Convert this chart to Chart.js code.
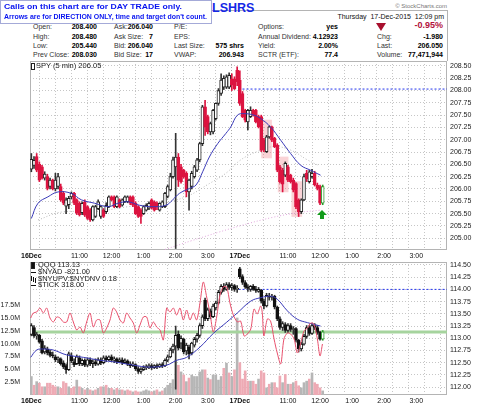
<!DOCTYPE html>
<html>
<head>
<meta charset="utf-8">
<title>SPY 5 min</title>
<script src="https://cdn.jsdelivr.net/npm/chart.js@4.4.1/dist/chart.umd.min.js"></script>
<style>
  html, body { margin: 0; padding: 0; background: #fff; }
  body { position: relative; width: 480px; height: 406px; overflow: hidden;
         font-family: "Liberation Sans", Arial, sans-serif; color: #222; }
  .l, .v { position: absolute; font-size: 7px; line-height: 9px; white-space: nowrap; }
  .l { color: #333; }
  .v { color: #000; font-weight: bold; text-align: right; }
  #frame { position: absolute; left: 30px; top: 10px; width: 417px; height: 50px;
           border-top: 1px solid #b4b4b4; border-right: 1px solid #b4b4b4; }
  #callout { position: absolute; left: 0; top: 0; width: 207px; height: 21px; padding: 1px 0 0 3px;
             border: 1px solid #a4aad8; background: #fff; z-index: 5; }
  #callout span { display: block; width: max-content; transform-origin: 0 0;
                  color: #0814f0; font-weight: bold; font-size: 8px; line-height: 10px; }
  #title { position: absolute; left: 212px; top: 1px; font-size: 12.5px; font-weight: bold; color: #1428e6; }
  #pane1 { position: absolute; left: 0; top: 56px; width: 480px; height: 206px; }
  #pane2 { position: absolute; left: 0; top: 258px; width: 480px; height: 148px; }
  .leg { position: absolute; font-size: 7.5px; line-height: 8px; color: #222; white-space: nowrap; z-index: 4; }
  .ic { position: absolute; left: 31px; }
</style>
</head>
<body>
<div id="frame"></div>
<div id="title">LSHRS</div>
<div id="callout">
  <span data-w="178">Calls on this chart are for DAY TRADE only.</span>
  <span data-w="203">Arrows are for DIRECTION ONLY, time and target don't count.</span>
</div>
<div class="l" style="right:33px;top:2px;font-size:6px;color:#777">© StockCharts.com</div>
<div class="l" style="right:36px;top:12px;color:#111">Thursday&nbsp; 17-Dec-2015&nbsp; 12:09 pm</div>

<div class="l" style="left:33px;top:22px">Open:</div>
<div class="l" style="left:33px;top:32px">High:</div>
<div class="l" style="left:33px;top:41px">Low:</div>
<div class="l" style="left:33px;top:50px">Prev Close:</div>
<div class="v" style="right:383px;top:22px">208.400</div>
<div class="v" style="right:383px;top:32px">208.480</div>
<div class="v" style="right:383px;top:41px">205.440</div>
<div class="v" style="right:383px;top:50px">208.030</div>

<div class="l" style="left:114px;top:22px">Ask:</div>
<div class="l" style="left:114px;top:32px">Ask Size:</div>
<div class="l" style="left:114px;top:41px">Bid:</div>
<div class="l" style="left:114px;top:50px">Bid Size:</div>
<div class="v" style="right:327px;top:22px">206.040</div>
<div class="v" style="right:327px;top:32px">7</div>
<div class="v" style="right:327px;top:41px">206.040</div>
<div class="v" style="right:327px;top:50px">17</div>

<div class="l" style="left:174px;top:22px">P/E:</div>
<div class="l" style="left:174px;top:32px">EPS:</div>
<div class="l" style="left:174px;top:41px">Last Size:</div>
<div class="l" style="left:174px;top:50px">VWAP:</div>
<div class="v" style="right:236px;top:41px">575 shrs</div>
<div class="v" style="right:236px;top:50px">206.943</div>

<div class="l" style="left:258px;top:22px">Options:</div>
<div class="l" style="left:258px;top:32px">Annual Dividend:</div>
<div class="l" style="left:258px;top:41px">Yield:</div>
<div class="l" style="left:258px;top:50px">SCTR (ETF):</div>
<div class="v" style="right:142px;top:22px">yes</div>
<div class="v" style="right:142px;top:32px">4.12923</div>
<div class="v" style="right:142px;top:41px">2.00%</div>
<div class="v" style="right:142px;top:50px">77.4</div>

<div style="position:absolute;left:376px;top:23px;width:0;height:0;border-left:5px solid transparent;border-right:5px solid transparent;border-top:8px solid #a8102e"></div>
<div class="v" style="right:37px;top:20px;font-size:9px;line-height:11px;color:#b3123c">-0.95%</div>
<div class="l" style="left:377px;top:32px">Chg:</div>
<div class="l" style="left:377px;top:41px">Last:</div>
<div class="l" style="left:377px;top:50px">Volume:</div>
<div class="v" style="right:37px;top:32px">-1.980</div>
<div class="v" style="right:37px;top:41px">206.050</div>
<div class="v" style="right:37px;top:50px">77,471,944</div>

<div id="pane1"><canvas id="spyChart"></canvas></div>
<div id="pane2"><canvas id="qqqChart"></canvas></div>

<div class="ic" style="top:63px;width:2px;height:5px;border:1px solid #222;background:#fff"></div>
<div class="leg" style="left:36px;top:62px">SPY (5 min) 206.05</div>
<div class="ic" style="top:262px;width:2px;height:5px;border:1px solid #222;background:#111"></div>
<div class="leg" style="left:38px;top:261px">QQQ 113.13</div>
<div class="ic" style="top:272px;width:5px;height:1px;background:#111"></div>
<div class="leg" style="left:38px;top:268px">$NYAD -821.00</div>
<div class="ic" style="top:276px;width:1px;height:5px;background:#111;box-shadow:2px 1px 0 #111,4px 2px 0 #111"></div>
<div class="leg" style="left:38px;top:275px">$NYUPV:$NYDNV 0.18</div>
<div class="ic" style="top:285px;width:5px;height:1px;background:#111"></div>
<div class="leg" style="left:38px;top:281px">$TICK 318.00</div>

<script>
// ---- x axis (5-minute bars, two sessions of 78 bars) ----
const tickBar  = [0, 18, 30, 42, 54, 66, 78, 96, 108, 120, 132, 144];
const tickText = ['16Dec', '11:00', '12:00', '1:00', '2:00', '3:00', '17Dec', '11:00', '12:00', '1:00', '2:00', '3:00'];

// ---- SPY 5 min candles ----
const spyOpen = [
  206.40,206.48,206.66,206.50,206.45,206.22,206.25,206.05,206.18,206.00,
  206.05,206.05,205.91,205.65,205.68,205.84,205.91,205.78,205.71,205.52,
  205.74,205.64,205.57,205.37,205.44,205.60,205.44,205.57,205.54,205.64,
  205.84,205.84,205.64,205.78,205.67,205.74,205.74,205.84,205.84,205.71,
  205.64,205.57,205.50,205.57,205.61,205.78,205.74,205.71,205.57,205.64,
  205.64,205.85,205.98,206.25,206.45,206.65,206.45,206.38,206.32,205.94,
  206.05,206.25,206.38,206.59,206.92,207.67,207.47,207.16,207.16,207.43,
  207.74,207.94,208.07,208.07,208.07,208.24,208.24,208.41,208.21,207.94,
  207.60,207.36,207.47,207.60,207.60,207.47,207.47,206.99,206.76,207.06,
  207.26,207.03,206.89,206.45,206.38,206.28,206.45,206.28,206.18,206.11,
  205.78,205.54,205.78,206.32,206.15,206.25,206.32,206.08,206.05,205.71
];
const spyHigh = [
  206.72,206.66,206.72,206.55,206.48,206.35,206.30,206.22,206.20,206.32,
  206.32,206.10,205.95,205.82,205.85,205.94,205.93,205.80,205.74,205.74,
  205.78,205.66,205.60,205.66,205.67,205.78,205.66,205.60,205.72,205.86,
  205.86,205.86,205.86,205.80,205.80,205.86,205.86,205.86,205.86,205.74,
  205.66,205.60,205.66,205.70,205.74,205.80,205.76,205.74,205.72,205.76,
  205.93,206.08,206.32,206.65,207.13,206.72,206.50,206.40,206.35,206.20,
  206.36,206.48,206.62,206.95,207.70,207.80,207.50,207.36,207.62,207.75,
  208.04,208.34,208.30,208.32,208.36,208.34,208.28,208.48,208.40,207.98,
  207.62,207.62,207.67,207.62,207.62,207.50,207.50,207.03,207.09,207.28,
  207.28,207.05,206.92,206.48,206.42,206.55,206.48,206.30,206.22,206.13,
  205.80,205.80,206.30,206.38,206.38,206.40,206.36,206.12,206.08,206.08
];
const spyLow = [
  206.35,206.42,206.35,206.15,206.20,206.18,205.98,206.00,205.98,205.96,
  206.00,205.75,205.68,205.50,205.60,205.80,205.68,205.48,205.45,205.48,
  205.44,205.38,205.34,205.35,205.42,205.58,205.40,205.42,205.50,205.62,
  205.76,205.62,205.62,205.62,205.65,205.72,205.72,205.68,205.64,205.48,
  205.42,205.30,205.48,205.55,205.58,205.59,205.55,205.58,205.55,205.62,
  205.62,205.82,205.96,206.22,204.79,206.05,206.12,206.22,205.84,205.57,
  206.00,206.22,206.35,206.55,206.88,207.09,207.12,207.10,207.12,207.40,
  207.70,207.90,208.02,208.04,208.04,208.00,208.02,208.10,207.70,207.45,
  207.36,207.20,207.45,207.48,207.34,207.24,206.76,206.76,206.74,207.03,
  206.96,206.84,206.35,206.12,205.94,206.25,206.15,206.12,205.94,205.60,
  205.44,205.50,205.76,206.15,206.12,206.22,206.06,205.98,205.68,205.68
];
const spyClose = [
  206.60,206.58,206.38,206.18,206.22,206.30,206.01,206.18,206.00,206.18,
  206.25,205.78,205.71,205.78,205.81,205.91,205.71,205.51,205.48,205.71,
  205.47,205.40,205.37,205.64,205.64,205.74,205.64,205.44,205.67,205.84,
  205.78,205.64,205.84,205.64,205.78,205.84,205.84,205.71,205.67,205.50,
  205.44,205.44,205.64,205.67,205.71,205.61,205.57,205.64,205.71,205.74,
  205.91,206.05,206.25,206.59,206.65,206.18,206.15,206.25,205.94,206.18,
  206.32,206.45,206.59,206.92,207.67,207.26,207.16,207.33,207.60,207.74,
  208.00,208.21,208.25,208.28,208.31,208.11,208.04,208.18,207.74,207.47,
  207.40,207.60,207.60,207.50,207.36,207.26,206.79,206.79,207.06,207.26,
  206.99,206.86,206.38,206.15,206.10,206.52,206.18,206.15,205.98,205.64,
  205.54,205.78,206.25,206.21,206.35,206.32,206.08,206.01,205.71,206.05
];
const spyPrevClose = 208.03;
const spyTicks = [205.00, 205.25, 205.50, 205.75, 206.00, 206.25, 206.50, 206.75, 207.00, 207.25, 207.50, 207.75, 208.00, 208.25, 208.50];

// overlays on the SPY panel
const spyMaX   = [0, 2.5, 6.2, 10, 15, 18.7, 23.7, 28.7, 32.4, 36.2, 40.4, 45.4, 50.4, 52.9, 55.4, 59.1, 61.6, 64.1, 66.6, 69.7, 72.8, 74.6, 77.1, 79.6, 83.3, 85.8, 89.5, 93.3, 97, 100.8, 104.5, 108.2];
const spyMaVal = [205.40, 205.71, 205.84, 205.94, 205.91, 205.78, 205.71, 205.64, 205.71, 205.74, 205.67, 205.64, 205.67, 205.78, 205.91, 206.01, 206.08, 206.35, 206.65, 206.92, 207.13, 207.26, 207.50, 207.53, 207.50, 207.43, 207.26, 206.99, 206.72, 206.48, 206.38, 206.28];
const spySlowX   = [2.5, 11.2, 23.7, 36.2, 47.9, 57.8, 66.6, 72.8, 78.3, 84.5, 90.8, 97, 103.3, 107];
const spySlowVal = [205.37, 205.53, 205.54, 205.64, 205.71, 205.84, 206.11, 206.32, 206.59, 206.76, 206.86, 206.79, 206.59, 206.49];
const spyLongX   = [50, 60, 70, 78, 90, 100, 108.2];
const spyLongVal = [204.77, 204.95, 205.12, 205.25, 205.42, 205.52, 205.57];
const zoneBar  = [88, 94.2, 99.3];
const zoneLow  = [206.63, 205.94, 205.44];
const zoneHigh = [207.40, 206.65, 206.15];
const arrowBar   = [108.6];
const arrowPrice = [205.57];

// ---- QQQ 5 min candles ----
const qqqOpen = [
  113.08,113.22,113.05,113.06,112.95,112.72,112.78,112.72,112.66,112.62,
  112.56,112.58,112.50,112.44,112.36,112.64,112.52,112.48,112.60,112.48,
  112.55,112.45,112.56,112.48,112.52,112.47,112.56,112.50,112.60,112.56,
  112.62,112.55,112.58,112.52,112.56,112.50,112.54,112.47,112.44,112.46,
  112.38,112.32,112.36,112.40,112.42,112.44,112.40,112.44,112.42,112.46,
  112.44,112.55,112.62,112.76,112.84,113.08,112.90,112.98,112.74,112.82,
  112.70,112.86,112.98,113.06,113.26,113.78,113.40,113.56,113.44,113.62,
  113.72,113.94,114.06,114.00,114.10,114.04,114.08,114.00,114.42,114.26,
  114.14,114.05,114.00,114.06,114.00,113.96,113.98,113.76,113.66,113.86,
  113.84,113.86,113.64,113.40,113.22,113.28,113.16,113.26,113.18,113.20,
  112.96,112.78,112.88,113.04,113.22,113.10,113.26,113.22,113.12,112.98
];
const qqqHigh = [
  113.30,113.26,113.12,113.08,112.98,112.85,112.82,112.76,112.72,112.66,
  112.62,112.60,112.54,112.48,112.72,112.70,112.58,112.66,112.64,112.58,
  112.58,112.60,112.60,112.56,112.58,112.60,112.60,112.64,112.64,112.64,
  112.66,112.62,112.60,112.60,112.60,112.58,112.56,112.52,112.52,112.48,
  112.42,112.40,112.44,112.46,112.48,112.48,112.46,112.48,112.48,112.50,
  112.58,112.66,112.80,112.88,113.25,113.15,113.05,113.00,112.90,112.86,
  112.92,113.02,113.10,113.30,113.48,113.82,113.62,113.60,113.70,113.76,
  113.98,114.10,114.12,114.14,114.14,114.12,114.10,114.08,114.45,114.30,
  114.18,114.10,114.08,114.10,114.06,114.04,114.00,113.80,113.92,113.92,
  113.90,113.88,113.66,113.44,113.34,113.32,113.30,113.30,113.24,113.22,
  112.98,112.92,113.08,113.26,113.26,113.30,113.30,113.26,113.14,113.16
];
const qqqLow = [
  113.05,113.02,112.98,112.90,112.68,112.68,112.66,112.62,112.60,112.52,
  112.50,112.45,112.38,112.28,112.34,112.50,112.42,112.46,112.44,112.44,
  112.42,112.42,112.44,112.40,112.44,112.45,112.46,112.48,112.52,112.54,
  112.52,112.50,112.48,112.50,112.46,112.48,112.44,112.40,112.42,112.34,
  112.28,112.28,112.34,112.36,112.38,112.36,112.38,112.38,112.40,112.40,
  112.42,112.52,112.60,112.70,111.96,112.76,112.78,112.68,112.66,112.58,
  112.66,112.82,112.92,113.02,113.20,113.36,113.36,113.40,113.42,113.58,
  113.70,113.90,113.96,113.98,114.00,113.98,113.96,113.94,114.22,114.10,
  114.02,113.96,113.96,113.98,113.94,113.94,113.72,113.60,113.64,113.78,
  113.78,113.60,113.36,113.18,113.16,113.12,113.12,113.14,113.08,112.92,
  112.72,112.74,112.86,113.00,113.06,113.08,113.18,113.08,112.96,112.96
];
const qqqClose = [
  113.26,113.05,113.08,112.92,112.70,112.80,112.70,112.65,112.64,112.56,
  112.60,112.48,112.42,112.36,112.68,112.54,112.46,112.62,112.48,112.55,
  112.45,112.56,112.48,112.52,112.47,112.56,112.50,112.60,112.56,112.62,
  112.55,112.58,112.52,112.56,112.50,112.54,112.47,112.44,112.48,112.38,
  112.32,112.36,112.40,112.42,112.44,112.40,112.44,112.42,112.46,112.44,
  112.55,112.62,112.76,112.84,113.06,112.80,113.00,112.72,112.86,112.68,
  112.90,112.98,113.06,113.26,113.44,113.40,113.58,113.44,113.66,113.72,
  113.94,114.06,114.00,114.10,114.04,114.08,114.00,114.01,114.26,114.14,
  114.05,114.02,114.06,114.00,113.98,114.00,113.76,113.66,113.88,113.84,
  113.86,113.64,113.40,113.22,113.30,113.16,113.26,113.18,113.20,112.96,
  112.78,112.88,113.04,113.22,113.10,113.26,113.22,113.12,112.98,113.13
];
const qqqPrevClose = 114.00;
const qqqLast = 113.13;
const qqqTicks = [112.00, 112.25, 112.50, 112.75, 113.00, 113.25, 113.50, 113.75, 114.00, 114.25, 114.50];
const qqqMaX   = [-0.25, 2, 4.5, 8.2, 13.2, 19.5, 25.7, 31.9, 38.2, 44.4, 50.6, 54.4, 58.1, 63.1, 68.1, 73.1, 77.1, 82.1, 85.8, 89.5, 92, 95.8, 99.5, 103.3, 108.2];
const qqqMaVal = [112.61, 112.76, 112.78, 112.76, 112.66, 112.61, 112.55, 112.51, 112.45, 112.41, 112.45, 112.55, 112.61, 112.82, 113.10, 113.33, 113.52, 113.76, 113.83, 113.86, 113.80, 113.56, 113.39, 113.32, 113.25];

// ---- volume (millions) ----
const volume = [
  3.6,1.9,2.6,2.3,1.6,1.6,2.3,2.3,1.9,1.6,
  1.6,1.3,2.6,2.3,1.6,1.3,1.6,2.9,1.6,1.3,
  1.0,1.3,1.0,0.8,1.0,1.3,1.6,1.6,1.9,1.3,
  1.3,1.0,1.3,1.0,1.0,0.8,1.0,0.8,0.6,0.8,
  0.6,0.6,0.8,1.0,0.8,0.6,0.8,1.0,0.6,0.8,
  1.3,1.9,2.3,3.0,6.8,5.8,4.5,3.9,2.6,3.3,
  3.9,3.6,3.6,4.5,4.9,4.9,3.3,3.0,3.9,3.9,
  2.9,3.6,5.2,6.2,4.3,3.6,4.9,15.0,6.3,3.1,
  4.7,2.7,2.7,2.7,2.1,3.1,4.7,4.3,1.4,2.1,
  2.4,2.4,1.4,3.7,2.4,4.0,2.1,2.1,2.4,2.7,
  1.8,1.4,2.4,2.7,3.1,4.3,2.4,2.1,1.4,0.8
];
const volTicks = [2.5, 5.0, 7.5, 10.0, 12.5, 15.0, 17.5];

// ---- $TICK line ----
const breadthX = [
  -0.25,0.75,2.0,3.24,4.49,5.74,6.98,8.23,9.48,10.72,11.97,13.22,14.46,15.71,16.96,18.2,19.45,20.7,21.95,23.19,
  24.44,25.69,26.93,28.18,29.43,30.67,31.92,33.17,34.41,35.66,36.91,38.15,39.4,40.65,41.9,43.14,44.39,45.64,46.88,48.13,
  49.38,50.62,51.87,53.12,54.36,55.61,56.86,58.1,59.35,60.6,61.84,63.09,64.34,65.59,66.83,68.08,69.33,70.57,71.82,73.07,
  74.31,75.56,77.1,78.3,79.6,80.8,82.1,83.3,84.5,85.8,86.4,87.0,88.3,89.5,90.8,92.0,93.3,94.5,95.8,97.0,
  98.3,99.5,100.8,102.0,103.3,104.5,105.7,107.0,108.0,108.9
];
const breadthVal = [
  280,380,400,480,380,480,280,200,300,280,200,200,380,200,40,100,-20,200,380,100,
  240,240,-20,80,240,480,400,240,180,380,280,180,-20,140,300,300,80,200,100,40,
  -160,480,400,480,340,480,240,440,240,380,240,580,1000,700,380,0,300,740,900,900,
  580,340,200,220,-80,-40,60,460,360,520,380,-80,260,220,-140,-420,-640,-140,-20,-40,
  -140,-420,-220,20,80,180,160,-140,-480,-240
];

// ---------------------------------------------------------------
Chart.defaults.font.family = '"Liberation Sans", Arial, sans-serif';
Chart.defaults.font.size = 7;
Chart.defaults.color = '#222';
Chart.defaults.animation = false;
Chart.defaults.plugins.legend.display = false;
Chart.defaults.plugins.tooltip.enabled = false;

const X_MIN = -0.5, X_MAX = 155.5;
const dayTwo = tickBar[tickText.indexOf('17Dec')];
const gridBars = [];
for (let b = 0; b <= X_MAX; b += 6) gridBars.push(b);

const RED = '#dc1440', GREEN = '#2a9a2a', GRID = '#c6c6c6';

function xLabel(v) {
  const k = tickBar.indexOf(Math.round(v));
  return k < 0 ? '' : tickText[k];
}

function xScale(h) {
  return {
    type: 'linear', min: X_MIN, max: X_MAX, offset: false,
    afterBuildTicks: s => { s.ticks = gridBars.map(v => ({ value: v })); },
    afterFit: s => { s.height = h; s.paddingLeft = 0; s.paddingRight = 0; },
    grid: { drawTicks: false, color: ctx => (ctx.tick && ctx.tick.value === dayTwo) ? '#a8a8a8' : GRID },
    border: { display: false, dash: [1, 2] },
    ticks: {
      autoSkip: false, maxRotation: 0, minRotation: 0, padding: 2, color: '#111',
      font: ctx => ({ size: 7, weight: (ctx.tick && /Dec/.test(xLabel(ctx.tick.value))) ? 'bold' : 'normal' }),
      callback: v => xLabel(v)
    }
  };
}

function priceScale(lo, hi, ticks) {
  return {
    position: 'right', min: lo, max: hi,
    afterBuildTicks: s => { s.ticks = ticks.map(v => ({ value: v })); },
    afterFit: s => { s.width = 33; s.paddingTop = 0; s.paddingBottom = 0; },
    grid: { drawTicks: false, color: GRID },
    border: { display: false, dash: [1, 2] },
    ticks: { padding: 3, color: '#222', callback: v => v.toFixed(2) }
  };
}

const pts = (xs, ys) => xs.map((x, i) => ({ x, y: ys[i] }));
const bodies = (o, c) => o.map((v, i) => ({ x: i, y: [Math.min(v, c[i]), Math.max(v, c[i])] }));
const wicks = (l, h) => l.map((v, i) => ({ x: i, y: [v, h[i]] }));

const framePlugin = {
  id: 'frame',
  beforeDatasetsDraw(chart) {
    const a = chart.chartArea, ctx = chart.ctx;
    ctx.save();
    ctx.strokeStyle = '#b4b4b4';
    ctx.lineWidth = 1;
    ctx.strokeRect(Math.round(a.left) + 0.5, Math.round(a.top) + 0.5,
                   Math.round(a.right - a.left) - 1, Math.round(a.bottom - a.top) - 1);
    ctx.restore();
  }
};

const arrowPlugin = {
  id: 'arrows',
  afterDatasetsDraw(chart) {
    const ctx = chart.ctx, xs = chart.scales.x, ys = chart.scales.y;
    ctx.save();
    ctx.fillStyle = '#139c1c';
    arrowBar.forEach((b, i) => {
      const px = Math.round(xs.getPixelForValue(b)), py = Math.round(ys.getPixelForValue(arrowPrice[i]));
      ctx.beginPath();
      ctx.moveTo(px, py);
      ctx.lineTo(px + 5, py + 5);
      ctx.lineTo(px + 2, py + 5);
      ctx.lineTo(px + 2, py + 9);
      ctx.lineTo(px - 2, py + 9);
      ctx.lineTo(px - 2, py + 5);
      ctx.lineTo(px - 5, py + 5);
      ctx.closePath();
      ctx.fill();
    });
    ctx.restore();
  }
};

// ---- SPY panel ----
const spyLastI = spyClose.length - 1;
const spyDown = i => spyClose[i] < spyOpen[i];

new Chart(document.getElementById('spyChart'), {
  type: 'bar',
  data: {
    datasets: [
      { type: 'line', data: pts(spyMaX, spyMaVal), borderColor: '#3a3ab8', borderWidth: 1, pointRadius: 0, tension: 0.4 },
      {
        data: bodies(spyOpen, spyClose), grouped: false, barThickness: 3, minBarLength: 1,
        borderWidth: 1, borderSkipped: false,
        backgroundColor: c => (c.dataIndex !== spyLastI && spyDown(c.dataIndex)) ? RED : '#fff',
        borderColor: c => c.dataIndex === spyLastI ? GREEN : (spyDown(c.dataIndex) ? RED : '#222')
      },
      {
        data: wicks(spyLow, spyHigh), grouped: false, barThickness: 1,
        backgroundColor: c => c.dataIndex === spyLastI ? GREEN : (spyDown(c.dataIndex) ? RED : '#333')
      },
      { type: 'line', data: pts(spySlowX, spySlowVal), borderColor: '#b8b8b8', borderWidth: 1, borderDash: [1, 2], pointRadius: 0, tension: 0.4 },
      { type: 'line', data: pts(spyLongX, spyLongVal), borderColor: '#e0a4dc', borderWidth: 1, borderDash: [1, 2], pointRadius: 0, tension: 0.4 },
      { type: 'line', data: [{ x: dayTwo - 0.5, y: spyPrevClose }, { x: X_MAX, y: spyPrevClose }], borderColor: '#2233ee', borderWidth: 1, borderDash: [2, 2], pointRadius: 0 },
      {
        data: zoneBar.map((b, i) => ({ x: b, y: [zoneLow[i], zoneHigh[i]] })), grouped: false, barThickness: 10,
        backgroundColor: 'rgba(238,120,132,0.32)'
      }
    ]
  },
  options: {
    responsive: true, maintainAspectRatio: false,
    layout: { padding: { left: 30, top: 5, right: 0, bottom: 0 } },
    scales: { x: xScale(12), y: priceScale(204.76, 208.6, spyTicks) }
  },
  plugins: [framePlugin, arrowPlugin]
});

// ---- QQQ / volume / $TICK panel ----
const qqqLastI = qqqClose.length - 1;
const qqqDown = i => qqqClose[i] < qqqOpen[i];

new Chart(document.getElementById('qqqChart'), {
  type: 'bar',
  data: {
    datasets: [
      { type: 'line', data: pts(breadthX, breadthVal), yAxisID: 'br', borderColor: '#e8506c', borderWidth: 1, pointRadius: 0, tension: 0.3 },
      { type: 'line', data: pts(qqqMaX, qqqMaVal), borderColor: '#3a3ab8', borderWidth: 1, pointRadius: 0, tension: 0.4 },
      {
        data: bodies(qqqOpen, qqqClose), grouped: false, barThickness: 3, minBarLength: 1,
        borderWidth: 1, borderSkipped: false,
        backgroundColor: c => (c.dataIndex !== qqqLastI && qqqDown(c.dataIndex)) ? '#111' : '#fff',
        borderColor: c => c.dataIndex === qqqLastI ? GREEN : '#111'
      },
      {
        data: wicks(qqqLow, qqqHigh), grouped: false, barThickness: 1,
        backgroundColor: c => c.dataIndex === qqqLastI ? GREEN : '#333'
      },
      { type: 'line', data: [{ x: dayTwo - 0.5, y: qqqPrevClose }, { x: X_MAX, y: qqqPrevClose }], borderColor: '#2233ee', borderWidth: 1, borderDash: [2, 2], pointRadius: 0 },
      { type: 'line', data: [{ x: X_MIN, y: qqqLast }, { x: X_MAX, y: qqqLast }], borderColor: '#a6d49e', borderWidth: 3, pointRadius: 0 },
      {
        data: volume.map((v, i) => ({ x: i, y: v })), yAxisID: 'vol', grouped: false, barThickness: 2,
        backgroundColor: c => qqqDown(c.dataIndex) ? '#eeaab4' : '#b6b6b6'
      }
    ]
  },
  options: {
    responsive: true, maintainAspectRatio: false,
    layout: { padding: { left: 0, top: 4, right: 0, bottom: 0 } },
    scales: {
      x: xScale(11),
      y: priceScale(111.84, 114.56, qqqTicks),
      vol: {
        axis: 'y', position: 'left', min: 0, max: 25.9,
        afterBuildTicks: s => { s.ticks = volTicks.map(v => ({ value: v })); },
        afterFit: s => { s.width = 30; s.paddingTop = 0; s.paddingBottom = 0; },
        grid: { display: false }, border: { display: false },
        ticks: { padding: 2, color: '#222', callback: v => v.toFixed(1) + 'M' }
      },
      br: { axis: 'y', position: 'left', display: false, min: -1260, max: 1400 }
    }
  },
  plugins: [framePlugin]
});

// stretch the callout lines to the widths seen in the picture
document.querySelectorAll('#callout span').forEach(el => {
  const w = el.getBoundingClientRect().width;
  el.style.transform = 'scaleX(' + (el.dataset.w / w) + ')';
});
</script>
</body>
</html>
